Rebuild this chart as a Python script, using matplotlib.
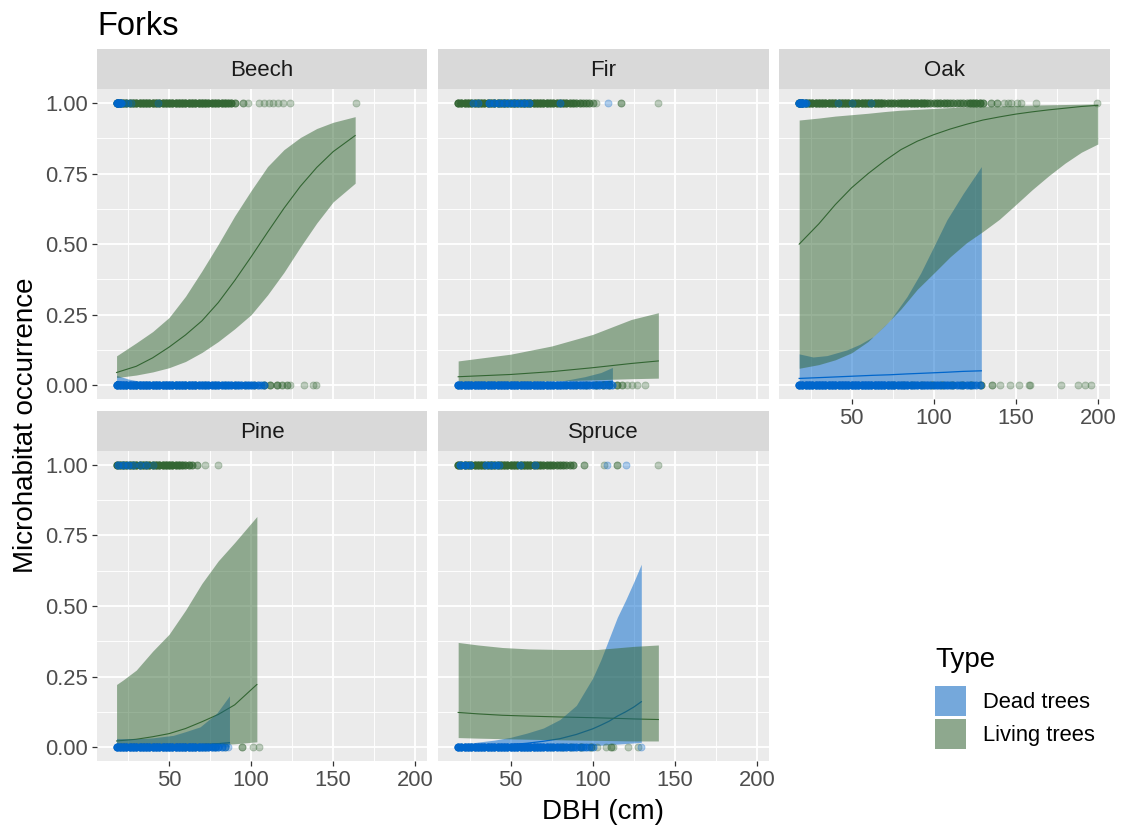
import numpy as np
import matplotlib
matplotlib.use("Agg")
import matplotlib.pyplot as plt
from matplotlib.patches import Rectangle

plt.rcParams['font.family'] = ['Liberation Sans', 'DejaVu Sans']

# ---------------- data ----------------
species = ["Beech", "Fir", "Oak", "Pine", "Spruce"]
types = ["Dead trees", "Living trees"]
x_ticks = [50, 100, 150, 200]
y_ticks = [0.0, 0.25, 0.5, 0.75, 1.0]
y_ticklabels = ["0.00", "0.25", "0.50", "0.75", "1.00"]

# ---- observed trees (DBH in cm, with number of trees at that DBH) ----
beech_live_y1 = [18, 20, 22, 24, 26, 28, 30, 32, 34, 36, 38, 40, 42, 44, 46, 48, 50, 52, 54, 56,
                 58, 60, 62, 64, 66, 68, 70, 72, 74, 76, 78, 80, 82, 84, 86, 88,
                 90.2, 95.3, 98.4, 104.5, 107.6, 110.6, 113.6, 116.6, 119.7, 123.8, 163.8]
beech_live_y1_n = [7, 7, 7, 7, 7, 7, 7, 7, 7, 7, 7, 7, 7, 7, 7, 7, 7, 7, 7, 7,
                   7, 7, 7, 7, 7, 7, 7, 7, 6, 6, 6, 6, 6, 6, 5, 5,
                   3, 2, 1, 1, 1, 1, 1, 1, 1, 1, 1]
beech_dead_y1 = [18, 19, 20, 21, 23, 25, 27, 43.5]
beech_dead_y1_n = [8, 8, 6, 5, 1, 1, 1, 1]
beech_live_y0 = [18, 24, 30, 36, 42, 48, 54, 60, 66, 72, 78, 84, 90, 96, 102, 108,
                 111.6, 115.7, 118.7, 121.8, 123.8, 132, 138, 139.6]
beech_live_y0_n = [1, 1, 1, 1, 1, 1, 1, 1, 1, 1, 1, 1, 1, 1, 2, 3, 3, 3, 2, 2, 1, 1, 1, 1]
beech_dead_y0 = [18, 20, 22, 24, 26, 28, 30, 32, 34, 36, 38, 40, 42, 44, 46, 48, 50, 52, 54, 56,
                 58, 60, 62, 64, 66, 68, 70, 72, 74, 76, 78, 80, 82, 84, 86, 88, 90, 92, 94, 96,
                 98, 100, 102, 104, 106, 108]
beech_dead_y0_n = [9, 9, 9, 9, 9, 9, 9, 9, 9, 9, 9, 9, 9, 9, 9, 9, 9, 9, 9, 9,
                   9, 9, 9, 9, 9, 7, 7, 7, 7, 7, 7, 7, 6, 6, 6, 6, 6, 6, 5, 5,
                   5, 5, 4, 4, 3, 3]

fir_live_y1 = [18, 20, 22, 24, 26, 28, 30, 32, 34, 36, 38, 40, 42, 44, 46, 48, 50, 52, 54, 56,
               58, 60, 62, 64, 66, 68, 70, 72, 74, 76, 78, 80, 82, 84, 86, 88, 90, 92, 94, 96,
               98, 100, 102, 117.3, 140]
fir_live_y1_n = [7, 7, 7, 7, 7, 7, 7, 7, 7, 7, 7, 7, 7, 7, 7, 7, 7, 7, 7, 7,
                 7, 7, 7, 7, 7, 7, 7, 7, 6, 6, 6, 6, 6, 6, 5, 5, 4, 4, 3, 3,
                 3, 2, 1, 2, 1]
fir_dead_y1 = [27, 30, 37, 40, 43, 46, 49, 52, 55, 58, 61, 80, 109.4]
fir_dead_y1_n = [2, 2, 4, 4, 4, 4, 4, 4, 4, 4, 3, 2, 1]
fir_live_y0 = [84, 90, 96, 102, 106, 110, 115, 118, 121, 124, 127, 131.7]
fir_live_y0_n = [1, 2, 2, 3, 3, 3, 3, 2, 1, 1, 1, 1]
fir_dead_y0 = [18, 20, 22, 24, 26, 28, 30, 32, 34, 36, 38, 40, 42, 44, 46, 48, 50, 52, 54, 56,
               58, 60, 62, 64, 66, 68, 70, 72, 74, 76, 78, 80, 82, 84, 86, 88, 90, 92, 94, 96,
               98, 100, 102, 104, 106, 108, 110, 112]
fir_dead_y0_n = [9, 9, 9, 9, 9, 9, 9, 9, 9, 9, 9, 9, 9, 9, 9, 9, 9, 9, 9, 9,
                 9, 9, 9, 9, 9, 9, 9, 9, 8, 8, 8, 8, 6, 6, 6, 6, 5, 5, 5, 5,
                 4, 4, 4, 4, 3, 3, 3, 3]

oak_live_y1 = [18, 20, 22, 24, 26, 28, 30, 32, 34, 36, 38, 40, 42, 44, 46, 48, 50, 52, 54, 56,
               58, 60, 62, 64, 66, 68, 70, 72, 74, 76, 78, 80, 82, 84, 86, 88, 90, 92, 94, 96,
               98, 100, 102, 104, 106, 108, 110, 112, 114, 116, 118, 120, 122, 124, 126, 128, 130,
               134.8, 138.8, 142.9, 145, 147, 151, 153, 162.3, 199.5]
oak_live_y1_n = [7, 7, 7, 7, 7, 7, 7, 7, 7, 7, 7, 7, 7, 7, 7, 7, 7, 7, 7, 7,
                 7, 7, 7, 7, 7, 7, 4, 4, 4, 4, 4, 6, 6, 6, 6, 6, 6, 6, 6, 4,
                 3, 3, 4, 4, 4, 4, 3, 3, 3, 3, 3, 3, 5, 5, 5, 5, 3,
                 2, 2, 1, 1, 1, 1, 1, 1, 1]
oak_dead_y1 = [18, 19, 20, 21, 22, 41.8, 50, 62]
oak_dead_y1_n = [8, 8, 6, 5, 3, 1, 1, 1]
oak_live_y0 = [75, 81, 87, 93, 99, 105, 111, 117, 123, 129,
               135.4, 140.5, 146.6, 151.7, 157.8, 158.8, 177.6, 187.9, 192, 196]
oak_live_y0_n = [2, 2, 2, 2, 3, 3, 3, 3, 3, 3, 2, 1, 1, 1, 1, 1, 1, 1, 1, 1]
oak_dead_y0 = [18, 20, 22, 24, 26, 28, 30, 32, 34, 36, 38, 40, 42, 44, 46, 48, 50, 52, 54, 56,
               58, 60, 62, 64, 66, 68, 70, 72, 74, 76, 78, 80, 82, 84, 86, 88, 90, 92, 94, 96,
               98, 100, 102, 104, 106, 108, 110, 112, 114, 116, 118, 120, 122, 124, 126, 128]
oak_dead_y0_n = [9, 9, 9, 9, 9, 9, 9, 9, 9, 9, 9, 9, 9, 9, 9, 9, 9, 9, 9, 9,
                 9, 9, 9, 9, 9, 9, 9, 9, 8, 8, 7, 7, 7, 7, 6, 6, 6, 6, 6, 6,
                 5, 5, 5, 5, 5, 5, 4, 4, 4, 4, 4, 4, 4, 3, 3, 3]

pine_live_y1 = [18, 20, 22, 24, 26, 28, 30, 32, 34, 36, 38, 40, 42, 44, 46, 48, 50, 52, 54, 56,
                58, 60, 62, 64, 66.9, 72, 80]
pine_live_y1_n = [7, 7, 7, 7, 7, 7, 7, 7, 7, 7, 7, 7, 7, 7, 7, 7, 7, 7, 6, 6,
                  5, 4, 4, 3, 2, 1, 1]
pine_dead_y1 = [19, 22, 25, 28, 32, 36, 40]
pine_dead_y1_n = [3, 3, 3, 2, 2, 2, 1]
pine_live_y0 = [60, 66, 72, 78, 84, 94.3, 101.4, 104.5]
pine_live_y0_n = [1, 1, 1, 1, 1, 2, 1, 1]
pine_dead_y0 = [18, 20, 22, 24, 26, 28, 30, 32, 34, 36, 38, 40, 42, 44, 46, 48, 50, 52, 54, 56,
                58, 60, 62, 64, 66, 68, 70, 72, 74, 76, 78, 80, 82, 84, 86]
pine_dead_y0_n = [9, 9, 9, 9, 9, 9, 9, 9, 9, 9, 9, 9, 9, 9, 9, 9, 9, 9, 9, 9,
                  9, 9, 9, 9, 8, 8, 7, 6, 6, 5, 5, 4, 3, 2, 1]

spruce_live_y1 = [18, 20, 22, 24, 26, 28, 30, 32, 34, 36, 38, 40, 42, 44, 46, 48, 50, 52, 54, 56,
                  58, 60, 62, 64, 66, 68, 70, 72, 74, 76, 78, 80, 82, 84, 86, 88,
                  94.5, 106.9, 114.8, 140]
spruce_live_y1_n = [7, 7, 7, 7, 7, 7, 7, 7, 7, 7, 7, 7, 7, 7, 7, 7, 7, 7, 7, 7,
                    7, 7, 7, 6, 6, 6, 5, 5, 5, 5, 4, 4, 4, 3, 3, 3,
                    2, 1, 2, 1]
spruce_dead_y1 = [19, 22, 25, 35, 38, 41, 43, 55.6, 64.8, 109, 120.4]
spruce_dead_y1_n = [4, 4, 3, 3, 3, 3, 2, 2, 2, 1, 1]
spruce_live_y0 = [75, 81, 87, 93, 99, 102.9, 108, 111.1, 112.2, 121.4, 127.6]
spruce_live_y0_n = [1, 2, 2, 3, 3, 1, 1, 2, 1, 1, 1]
spruce_dead_y0 = [18, 20, 22, 24, 26, 28, 30, 32, 34, 36, 38, 40, 42, 44, 46, 48, 50, 52, 54, 56,
                  58, 60, 62, 64, 66, 68, 70, 72, 74, 76, 78, 80, 82, 84, 86, 88, 90, 92, 94, 96,
                  98, 100, 129.6]
spruce_dead_y0_n = [9, 9, 9, 9, 9, 9, 9, 9, 9, 9, 9, 9, 9, 9, 9, 9, 9, 9, 9, 9,
                    9, 9, 9, 9, 8, 8, 7, 7, 6, 6, 6, 5, 5, 5, 4, 4, 4, 3, 3, 3,
                    2, 2, 1]

# ---- fitted probabilities with confidence bands ----
beech_live_x = [18, 30, 40, 50, 60, 70, 80, 90, 100, 110, 120, 130, 140, 150, 163.4]
beech_live_fit = [0.045, 0.067, 0.097, 0.135, 0.178, 0.228, 0.293, 0.371, 0.455, 0.542, 0.627, 0.705, 0.772, 0.828, 0.885]
beech_live_upr = [0.104, 0.15, 0.19, 0.24, 0.315, 0.405, 0.50, 0.60, 0.69, 0.775, 0.835, 0.878, 0.91, 0.932, 0.952]
beech_live_lwr = [0.027, 0.036, 0.047, 0.062, 0.084, 0.116, 0.155, 0.20, 0.25, 0.32, 0.40, 0.49, 0.575, 0.65, 0.716]
beech_dead_x = [18, 25, 34, 50, 70, 90, 108]
beech_dead_fit = [0.012, 0.008, 0.004, 0.002, 0.001, 0.0005, 0.0003]
beech_dead_upr = [0.035, 0.022, 0.012, 0.006, 0.003, 0.002, 0.001]
beech_dead_lwr = [0.004, 0.002, 0.001, 0.0005, 0.0002, 0.0001, 0.0]

fir_live_x = [18, 30, 50, 75, 100, 123.5, 140]
fir_live_fit = [0.030, 0.033, 0.038, 0.048, 0.062, 0.077, 0.086]
fir_live_upr = [0.086, 0.095, 0.11, 0.139, 0.18, 0.233, 0.257]
fir_live_lwr = [0.010, 0.011, 0.012, 0.015, 0.019, 0.023, 0.025]
fir_dead_x = [18, 50, 80, 95, 105, 112]
fir_dead_fit = [0.002, 0.003, 0.005, 0.008, 0.011, 0.014]
fir_dead_upr = [0.006, 0.008, 0.014, 0.03, 0.045, 0.063]
fir_dead_lwr = [0.0, 0.0, 0.001, 0.001, 0.002, 0.002]

oak_live_x = [18, 30, 40, 50, 60, 70, 80, 90, 100, 110, 120, 130, 140, 150, 160, 170, 180, 190, 200]
oak_live_fit = [0.50, 0.572, 0.64, 0.70, 0.75, 0.795, 0.835, 0.865, 0.888, 0.908, 0.925, 0.94,
                0.951, 0.961, 0.969, 0.976, 0.982, 0.988, 0.992]
oak_live_upr = [0.94, 0.947, 0.954, 0.959, 0.964, 0.97, 0.975, 0.978, 0.981, 0.984, 0.987, 0.989,
                0.99, 0.992, 0.993, 0.994, 0.995, 0.996, 0.997]
oak_live_lwr = [0.06, 0.073, 0.09, 0.115, 0.155, 0.21, 0.27, 0.34, 0.397, 0.455, 0.505, 0.545,
                0.588, 0.64, 0.693, 0.742, 0.787, 0.826, 0.855]
oak_dead_x = [18, 26.5, 35, 47, 55, 63, 73.5, 83.7, 92, 100, 108, 118, 129]
oak_dead_fit = [0.024, 0.026, 0.028, 0.031, 0.033, 0.035, 0.037, 0.04, 0.042, 0.044, 0.046, 0.049, 0.051]
oak_dead_upr = [0.111, 0.10, 0.105, 0.125, 0.145, 0.172, 0.231, 0.314, 0.397, 0.491, 0.586, 0.68, 0.775]
oak_dead_lwr = [0.004, 0.004, 0.005, 0.005, 0.006, 0.006, 0.006, 0.007, 0.007, 0.007, 0.008, 0.008, 0.008]

pine_live_x = [18, 22, 30, 40, 50, 60, 70, 80, 90, 103.5]
pine_live_fit = [0.022, 0.024, 0.028, 0.037, 0.048, 0.066, 0.09, 0.116, 0.15, 0.222]
pine_live_upr = [0.222, 0.238, 0.273, 0.34, 0.40, 0.485, 0.58, 0.66, 0.725, 0.817]
pine_live_lwr = [0.001, 0.001, 0.002, 0.003, 0.004, 0.005, 0.007, 0.009, 0.012, 0.019]
pine_dead_x = [18, 30, 40, 52.6, 60, 68.9, 79, 86.8]
pine_dead_fit = [0.004, 0.004, 0.005, 0.006, 0.007, 0.009, 0.012, 0.016]
pine_dead_upr = [0.031, 0.03, 0.033, 0.042, 0.055, 0.072, 0.12, 0.182]
pine_dead_lwr = [0.0, 0.0, 0.0, 0.0, 0.0, 0.001, 0.001, 0.001]

spruce_live_x = [18, 30, 45, 61, 80, 103, 115, 125, 140]
spruce_live_fit = [0.123, 0.118, 0.113, 0.11, 0.107, 0.104, 0.102, 0.1, 0.098]
spruce_live_upr = [0.371, 0.362, 0.353, 0.348, 0.346, 0.346, 0.352, 0.357, 0.362]
spruce_live_lwr = [0.034, 0.032, 0.03, 0.028, 0.026, 0.024, 0.023, 0.022, 0.022]
spruce_dead_x = [18, 30, 40, 50, 60, 70, 80, 90, 100, 105, 110, 115, 120, 125, 129.6]
spruce_dead_fit = [0.002, 0.004, 0.006, 0.009, 0.014, 0.021, 0.03, 0.045, 0.065, 0.078, 0.092, 0.11, 0.125, 0.142, 0.161]
spruce_dead_upr = [0.008, 0.018, 0.025, 0.035, 0.05, 0.068, 0.098, 0.148, 0.245, 0.31, 0.385, 0.46, 0.52, 0.585, 0.648]
spruce_dead_lwr = [0.0, 0.0, 0.001, 0.001, 0.001, 0.002, 0.003, 0.004, 0.006, 0.007, 0.009, 0.011, 0.013, 0.015, 0.017]

# ---------------- style ----------------
DEAD = "#0066CC"
LIVE = "#336633"
PANEL_BG = "#EBEBEB"
STRIP_BG = "#D9D9D9"

W, H = 1121, 834
fig = plt.figure(figsize=(W / 100, H / 100), dpi=100)
fig.patch.set_facecolor("white")


def ax_at(x0, y0, x1, y1):
    return fig.add_axes([x0 / W, 1 - y1 / H, (x1 - x0) / W, (y1 - y0) / H])


cols = [(96.7, 427.2), (438.3, 768.8), (779.3, 1109.8)]
rows = [(89.0, 399.3), (450.7, 761.3)]
strips = [(49.0, 89.0), (411.0, 450.7)]
pos = {"Beech": (0, 0), "Fir": (0, 1), "Oak": (0, 2), "Pine": (1, 0), "Spruce": (1, 1)}
show_x = {"Beech": False, "Fir": False, "Oak": True, "Pine": True, "Spruce": True}
show_y = {"Beech": True, "Fir": False, "Oak": False, "Pine": True, "Spruce": False}

data = {
    "Beech": dict(lx=beech_live_x, lf=beech_live_fit, lu=beech_live_upr, ll=beech_live_lwr,
                  dx=beech_dead_x, df=beech_dead_fit, du=beech_dead_upr, dl=beech_dead_lwr,
                  pts=[(beech_live_y1, beech_live_y1_n, 1, LIVE), (beech_live_y0, beech_live_y0_n, 0, LIVE),
                       (beech_dead_y1, beech_dead_y1_n, 1, DEAD), (beech_dead_y0, beech_dead_y0_n, 0, DEAD)]),
    "Fir": dict(lx=fir_live_x, lf=fir_live_fit, lu=fir_live_upr, ll=fir_live_lwr,
                dx=fir_dead_x, df=fir_dead_fit, du=fir_dead_upr, dl=fir_dead_lwr,
                pts=[(fir_live_y1, fir_live_y1_n, 1, LIVE), (fir_live_y0, fir_live_y0_n, 0, LIVE),
                     (fir_dead_y1, fir_dead_y1_n, 1, DEAD), (fir_dead_y0, fir_dead_y0_n, 0, DEAD)]),
    "Oak": dict(lx=oak_live_x, lf=oak_live_fit, lu=oak_live_upr, ll=oak_live_lwr,
                dx=oak_dead_x, df=oak_dead_fit, du=oak_dead_upr, dl=oak_dead_lwr,
                pts=[(oak_live_y1, oak_live_y1_n, 1, LIVE), (oak_live_y0, oak_live_y0_n, 0, LIVE),
                     (oak_dead_y1, oak_dead_y1_n, 1, DEAD), (oak_dead_y0, oak_dead_y0_n, 0, DEAD)]),
    "Pine": dict(lx=pine_live_x, lf=pine_live_fit, lu=pine_live_upr, ll=pine_live_lwr,
                 dx=pine_dead_x, df=pine_dead_fit, du=pine_dead_upr, dl=pine_dead_lwr,
                 pts=[(pine_live_y1, pine_live_y1_n, 1, LIVE), (pine_live_y0, pine_live_y0_n, 0, LIVE),
                      (pine_dead_y1, pine_dead_y1_n, 1, DEAD), (pine_dead_y0, pine_dead_y0_n, 0, DEAD)]),
    "Spruce": dict(lx=spruce_live_x, lf=spruce_live_fit, lu=spruce_live_upr, ll=spruce_live_lwr,
                   dx=spruce_dead_x, df=spruce_dead_fit, du=spruce_dead_upr, dl=spruce_dead_lwr,
                   pts=[(spruce_live_y1, spruce_live_y1_n, 1, LIVE), (spruce_live_y0, spruce_live_y0_n, 0, LIVE),
                        (spruce_dead_y1, spruce_dead_y1_n, 1, DEAD), (spruce_dead_y0, spruce_dead_y0_n, 0, DEAD)]),
}

for sp in species:
    r, c = pos[sp]
    x0, x1 = cols[c]
    y0, y1 = rows[r]
    ax = ax_at(x0, y0, x1, y1)
    ax.set_facecolor(PANEL_BG)
    for s in ax.spines.values():
        s.set_visible(False)
    ax.set_xlim(5.9, 207.3)
    ax.set_ylim(-0.05, 1.05)
    ax.set_xticks(x_ticks)
    ax.set_xticks([25, 75, 125, 175], minor=True)
    ax.set_yticks(y_ticks)
    ax.set_yticklabels(y_ticklabels)
    ax.set_yticks([0.125, 0.375, 0.625, 0.875], minor=True)
    ax.grid(which="major", color="white", lw=1.35)
    ax.grid(which="minor", color="white", lw=0.65)
    ax.set_axisbelow(True)
    ax.tick_params(which="minor", length=0)
    ax.tick_params(which="major", length=3.8, width=0.9, color="#333333",
                   labelcolor="#4D4D4D", labelsize=15.8, pad=2.2)
    if not show_x[sp]:
        ax.tick_params(axis="x", which="major", length=0, labelbottom=False)
    if not show_y[sp]:
        ax.tick_params(axis="y", which="major", length=0, labelleft=False)

    d = data[sp]
    # fitted lines (under ribbons)
    ax.plot(d["dx"], d["df"], color=DEAD, lw=0.9, zorder=3)
    ax.plot(d["lx"], d["lf"], color=LIVE, lw=0.8, zorder=3)
    # ribbons
    ax.fill_between(d["dx"], d["dl"], d["du"], color=DEAD, alpha=0.5, lw=0, zorder=4)
    ax.fill_between(d["lx"], d["ll"], d["lu"], color=LIVE, alpha=0.5, lw=0, zorder=5)
    # observed trees
    for k, (vals, n, yv, col) in enumerate(d["pts"]):
        xs = np.repeat(np.asarray(vals, float), np.asarray(n, int))
        ys = np.full(xs.shape, float(yv))
        ax.scatter(xs, ys, s=26, facecolor=col, edgecolor=col, alpha=0.3, lw=0.6, zorder=6 + 0.1 * k)

    # strip
    sy0, sy1 = strips[r]
    sax = ax_at(x0, sy0, x1, sy1)
    sax.set_facecolor(STRIP_BG)
    for s in sax.spines.values():
        s.set_visible(False)
    sax.set_xticks([])
    sax.set_yticks([])
    sax.text(0.5, 0.47, sp, ha="center", va="center", fontsize=16, color="#1A1A1A",
             transform=sax.transAxes)

# title and axis titles
fig.text(97 / W, 1 - 35 / H, "Forks", fontsize=23.5, color="black", ha="left", va="baseline")
fig.text(603 / W, 1 - 819 / H, "DBH (cm)", fontsize=20, color="black", ha="center", va="baseline")
fig.text(33 / W, 1 - 425 / H, "Microhabitat occurrence", fontsize=20, color="black",
         ha="center", va="baseline", rotation=90, rotation_mode="anchor")

# legend
fig.text(935 / W, 1 - 667 / H, "Type", fontsize=20, color="black", ha="left", va="baseline")
key_colors = [DEAD, LIVE]
key_y = [(686, 716), (719, 749)]
for lab, col, (ky0, ky1) in zip(types, key_colors, key_y):
    fig.patches.append(Rectangle((935 / W, 1 - ky1 / H), 31 / W, (ky1 - ky0) / H,
                                 transform=fig.transFigure, facecolor=PANEL_BG, edgecolor="none"))
    fig.patches.append(Rectangle((935 / W, 1 - ky1 / H), 31 / W, (ky1 - ky0) / H,
                                 transform=fig.transFigure, facecolor=col, alpha=0.5, edgecolor="none"))
    fig.text(983 / W, 1 - ((ky0 + ky1) / 2 + 1) / H, lab, fontsize=15.8, color="black",
             ha="left", va="center")

fig.savefig("out.png", dpi=100)
